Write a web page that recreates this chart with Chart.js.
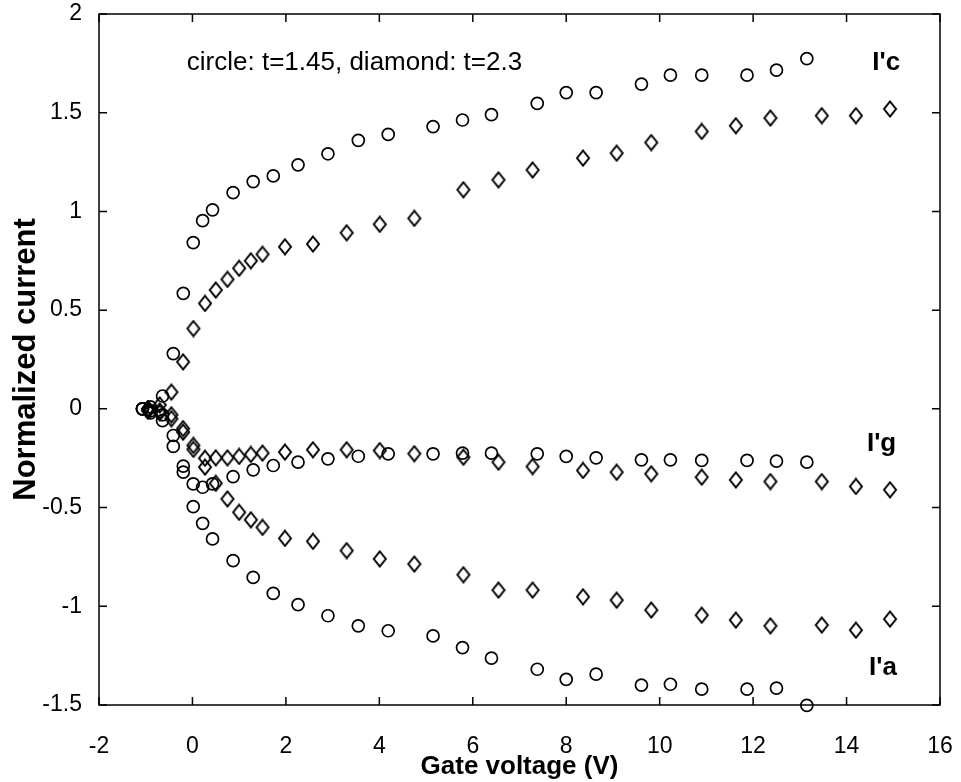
<!DOCTYPE html>
<html>
<head>
<meta charset="utf-8">
<script src="https://cdn.jsdelivr.net/npm/chart.js@4.4.1/dist/chart.umd.min.js"></script>
<style>
  body { margin: 0; background: #fff; }
  canvas { display: block; }
</style>
</head>
<body>
<canvas id="chart" width="961" height="782"></canvas>
<script>
// gate voltages, circle series (t=1.45)
let circleX = [-1.07, -0.9, -0.64, -0.41, -0.196, 0.017, 0.218, 0.43, 0.87, 1.30, 1.73, 2.26, 2.9, 3.55, 4.19, 5.15, 5.78, 6.4, 7.38, 8.0, 8.64, 9.61, 10.23, 10.9, 11.87, 12.5, 13.15];
let circleC = [0.0, 0.01, 0.065, 0.28, 0.585, 0.842, 0.953, 1.008, 1.095, 1.151, 1.18, 1.236, 1.292, 1.36, 1.39, 1.43, 1.463, 1.49, 1.547, 1.602, 1.602, 1.645, 1.69, 1.69, 1.69, 1.716, 1.774];
let circleG = [0.0, -0.01, -0.03, -0.135, -0.29, -0.38, -0.397, -0.38, -0.343, -0.309, -0.287, -0.27, -0.253, -0.24, -0.228, -0.228, -0.224, -0.224, -0.228, -0.241, -0.248, -0.258, -0.258, -0.261, -0.261, -0.265, -0.27];
let circleA = [0.0, -0.02, -0.06, -0.19, -0.32, -0.495, -0.58, -0.659, -0.769, -0.854, -0.935, -0.992, -1.048, -1.099, -1.124, -1.15, -1.209, -1.263, -1.319, -1.37, -1.344, -1.399, -1.395, -1.42, -1.42, -1.415, -1.502];

// gate voltages, diamond series (t=2.3)
let diamondX = [-0.95, -0.7, -0.45, -0.2, 0.02, 0.27, 0.5, 0.75, 1.0, 1.25, 1.5, 1.98, 2.58, 3.3, 4.01, 4.75, 5.8, 6.55, 7.28, 8.36, 9.08, 9.82, 10.9, 11.63, 12.37, 13.47, 14.2, 14.93];
let diamondC = [0.0, 0.02, 0.085, 0.238, 0.407, 0.534, 0.602, 0.656, 0.712, 0.75, 0.783, 0.821, 0.835, 0.892, 0.935, 0.965, 1.11, 1.16, 1.21, 1.27, 1.295, 1.349, 1.405, 1.434, 1.473, 1.485, 1.485, 1.519];
let diamondG = [0.0, -0.01, -0.03, -0.10, -0.185, -0.25, -0.248, -0.248, -0.241, -0.231, -0.224, -0.219, -0.207, -0.207, -0.211, -0.227, -0.245, -0.27, -0.292, -0.312, -0.321, -0.329, -0.346, -0.36, -0.368, -0.368, -0.393, -0.41];
let diamondA = [-0.01, -0.02, -0.05, -0.118, -0.205, -0.295, -0.377, -0.456, -0.524, -0.562, -0.6, -0.656, -0.671, -0.718, -0.76, -0.786, -0.84, -0.918, -0.918, -0.952, -0.969, -1.019, -1.045, -1.07, -1.099, -1.095, -1.121, -1.065];

let xTicks = [-2, 0, 2, 4, 6, 8, 10, 12, 14, 16];
let yTicks = [-1.5, -1, -0.5, 0, 0.5, 1, 1.5, 2];

// text labels drawn in data coordinates
let notes = [
    { text: 'circle: t=1.45, diamond: t=2.3', x: -0.12, y: 1.754, bold: false, align: 'left' },
    { text: "I'c", x: 14.85, y: 1.754, bold: true, align: 'center' },
    { text: "I'g", x: 14.75, y: -0.175, bold: true, align: 'center' },
    { text: "I'a", x: 14.78, y: -1.31, bold: true, align: 'center' }
];

const FONT = '"Liberation Sans", Arial, sans-serif';

// matlab style diamond, a bit taller than wide
function diamondMarker() {
    const c = document.createElement('canvas');
    c.width = 16; c.height = 18;
    const g = c.getContext('2d');
    g.strokeStyle = '#000';
    g.lineWidth = 2;
    g.beginPath();
    g.moveTo(8, 1.5);
    g.lineTo(14, 9);
    g.lineTo(8, 16.5);
    g.lineTo(2, 9);
    g.closePath();
    g.stroke();
    return c;
}
const diamond = diamondMarker();

function pts(xs, ys) {
    return xs.map((x, i) => ({ x: x, y: ys[i] }));
}

function series(xs, ys, shape) {
    return {
        data: pts(xs, ys),
        pointStyle: shape,
        pointRadius: 6,
        pointBorderWidth: 1.7,
        pointBorderColor: '#000',
        pointBackgroundColor: 'rgba(0,0,0,0)',
        showLine: false,
        clip: false
    };
}

const boxPlugin = {
    id: 'box',
    afterDatasetsDraw(chart) {
        const { ctx, chartArea: a, scales: { x, y } } = chart;
        ctx.save();
        ctx.strokeStyle = '#000';
        ctx.lineWidth = 1.5;
        ctx.strokeRect(a.left, a.top, a.right - a.left, a.bottom - a.top);
        const len = 8;
        ctx.beginPath();
        xTicks.forEach(v => {
            const px = x.getPixelForValue(v);
            ctx.moveTo(px, a.bottom); ctx.lineTo(px, a.bottom - len);
            ctx.moveTo(px, a.top); ctx.lineTo(px, a.top + len);
        });
        yTicks.forEach(v => {
            const py = y.getPixelForValue(v);
            ctx.moveTo(a.left, py); ctx.lineTo(a.left + len, py);
            ctx.moveTo(a.right, py); ctx.lineTo(a.right - len, py);
        });
        ctx.stroke();

        ctx.fillStyle = '#000';
        ctx.textBaseline = 'middle';
        notes.forEach(n => {
            ctx.font = n.bold ? 'bold 26px ' + FONT : '26px ' + FONT;
            ctx.textAlign = n.align;
            ctx.fillText(n.text, x.getPixelForValue(n.x), y.getPixelForValue(n.y));
        });
        ctx.restore();
    }
};

function initChart() {
    const ctx = document.getElementById('chart').getContext('2d');
    new Chart(ctx, {
        type: 'scatter',
        data: {
            datasets: [
                series(circleX, circleC, 'circle'),
                series(circleX, circleG, 'circle'),
                series(circleX, circleA, 'circle'),
                series(diamondX, diamondC, diamond),
                series(diamondX, diamondG, diamond),
                series(diamondX, diamondA, diamond)
            ]
        },
        options: {
            responsive: false,
            animation: false,
            devicePixelRatio: 1,
            layout: { padding: { top: 14, right: 21, left: 0, bottom: 0 } },
            plugins: {
                legend: { display: false },
                tooltip: { enabled: false }
            },
            scales: {
                x: {
                    type: 'linear',
                    min: -2, max: 16,
                    afterBuildTicks: s => { s.ticks = xTicks.map(v => ({ value: v })); },
                    afterFit: s => { s.height = 77; s.paddingLeft = 0; s.paddingRight = 0; },
                    grid: { display: false },
                    border: { display: false },
                    ticks: {
                        color: '#000',
                        padding: 20,
                        callback: v => String(v),
                        font: { family: FONT, size: 23 }
                    },
                    title: {
                        display: true,
                        text: 'Gate voltage (V)',
                        color: '#000',
                        padding: { top: 0, bottom: 0 },
                        font: { family: FONT, size: 26, weight: 'bold' }
                    }
                },
                y: {
                    type: 'linear',
                    min: -1.5, max: 2,
                    afterBuildTicks: s => { s.ticks = yTicks.map(v => ({ value: v })); },
                    afterFit: s => { s.width = 99; s.paddingTop = 0; s.paddingBottom = 0; },
                    grid: { display: false },
                    border: { display: false },
                    ticks: {
                        color: '#000',
                        padding: 9,
                        callback: v => String(v),
                        font: { family: FONT, size: 23 }
                    },
                    title: {
                        display: true,
                        text: 'Normalized current',
                        color: '#000',
                        padding: { top: 8, bottom: 0 },
                        font: { family: FONT, size: 31, weight: 'bold' }
                    }
                }
            }
        },
        plugins: [boxPlugin]
    });
}

initChart();
</script>
</body>
</html>
